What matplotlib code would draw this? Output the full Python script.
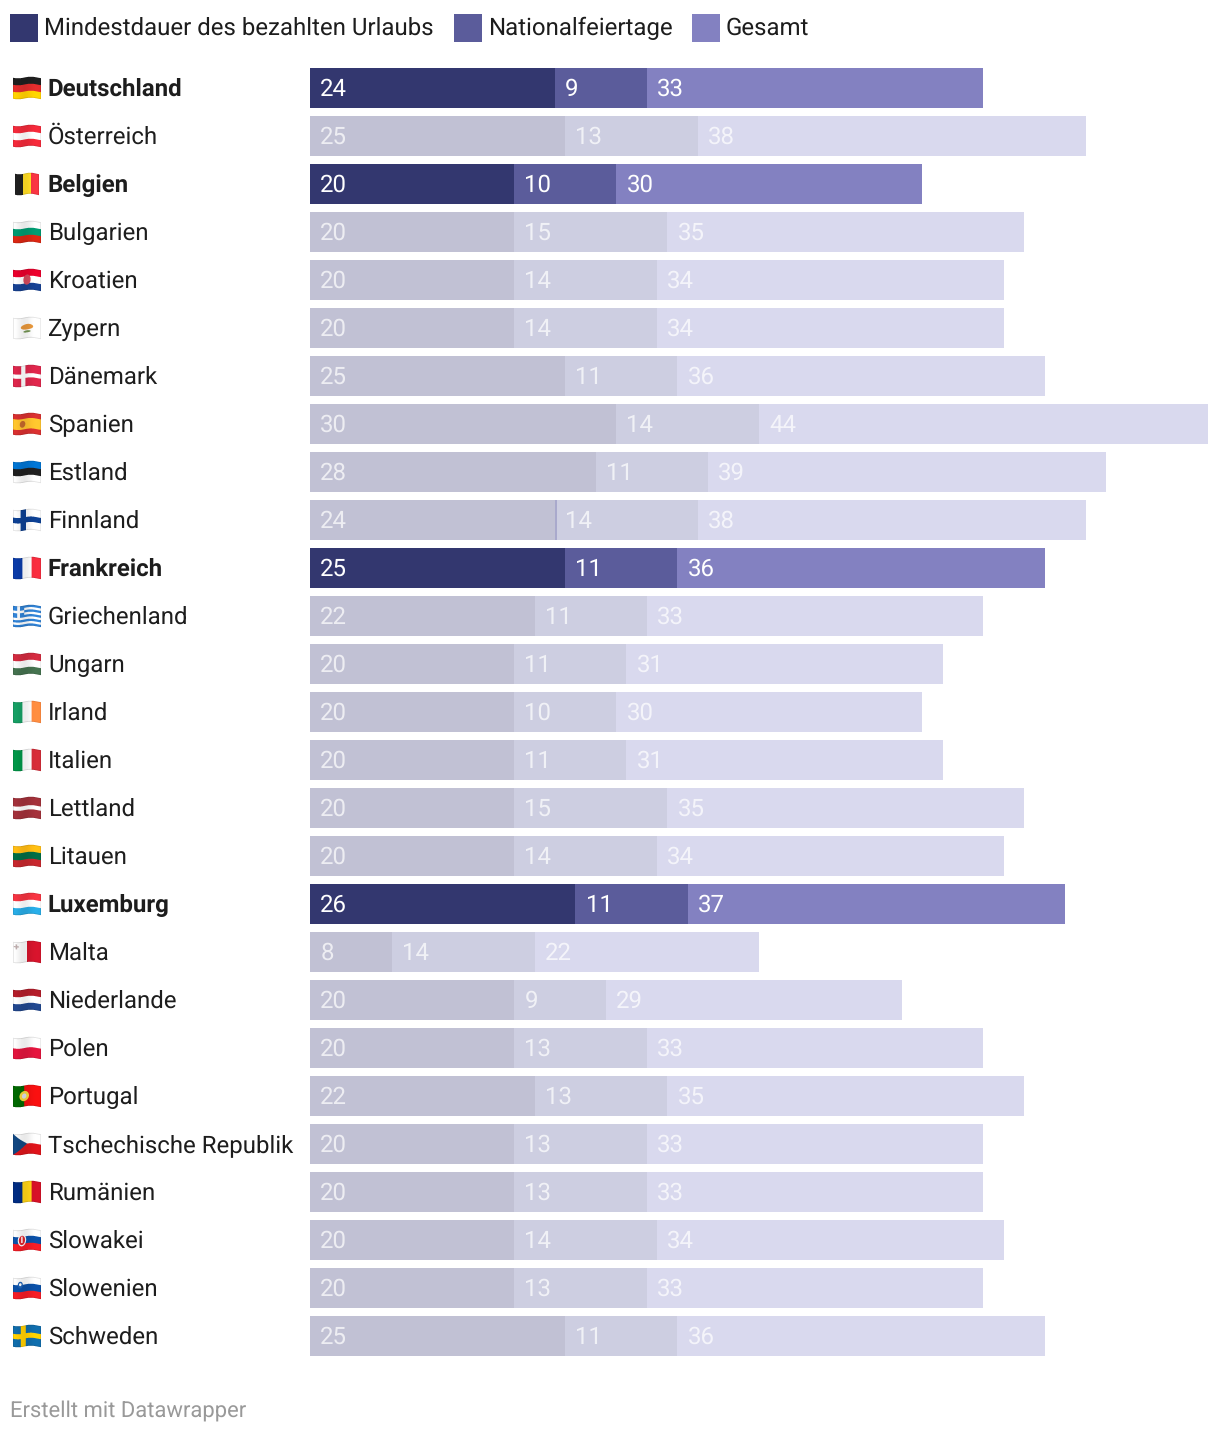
import numpy as np
import matplotlib
matplotlib.use("Agg")
import matplotlib.pyplot as plt
from matplotlib.patches import Rectangle
from matplotlib.transforms import ScaledTranslation

countries = ["Deutschland", "Österreich", "Belgien", "Bulgarien", "Kroatien", "Zypern", "Dänemark",
             "Spanien", "Estland", "Finnland", "Frankreich", "Griechenland", "Ungarn", "Irland",
             "Italien", "Lettland", "Litauen", "Luxemburg", "Malta", "Niederlande", "Polen",
             "Portugal", "Tschechische Republik", "Rumänien", "Slowakei", "Slowenien", "Schweden"]
urlaub = [24, 25, 20, 20, 20, 20, 25, 30, 28, 24, 25, 22, 20, 20, 20, 20, 20, 26, 8, 20, 20, 22, 20, 20, 20, 20, 25]
feiertage = [9, 13, 10, 15, 14, 14, 11, 14, 11, 14, 11, 11, 11, 10, 11, 15, 14, 11, 14, 9, 13, 13, 13, 13, 14, 13, 11]
gesamt = [33, 38, 30, 35, 34, 34, 36, 44, 39, 38, 36, 33, 31, 30, 31, 35, 34, 37, 22, 29, 33, 35, 33, 33, 34, 33, 36]
highlight = ["Deutschland", "Belgien", "Frankreich", "Luxemburg"]
series_names = ["Mindestdauer des bezahlten Urlaubs", "Nationalfeiertage", "Gesamt"]
footer = "Erstellt mit Datawrapper"

W, H = 1220, 1434
FONT = "Roboto"
FS = 17.28
plt.rcParams["font.family"] = [FONT, "DejaVu Sans"]
plt.rcParams["text.hinting"] = "no_hinting"
plt.rcParams["text.hinting_factor"] = 1

strong = ["#33376f", "#5b5c9b", "#8381c1"]
faded = ["#c1c1d4", "#cdcee1", "#d9d9ee"]

fig = plt.figure(figsize=(W / 100, H / 100), dpi=100, facecolor="white")

# pixel overlay for legend, flags, footer
ov = fig.add_axes([0, 0, 1, 1], zorder=3)
ov.set_xlim(0, W)
ov.set_ylim(H, 0)
ov.axis("off")
ov.patch.set_alpha(0)

# main bars
n = len(countries)
ax = fig.add_axes([310 / W, 1 - 1360 / H, 898 / W, 1296 / H], zorder=2)
ax.set_xlim(0, 88)
ax.set_ylim(n - 0.5, -0.5)
for s in ax.spines.values():
    s.set_visible(False)
ax.set_xticks([])
ax.set_yticks(range(n), labels=countries)
ax.tick_params(axis="y", length=0, pad=262 * 0.72, labelsize=FS, labelcolor="#1d1d1d")
fig.canvas.draw()
for lab, name in zip(ax.get_yticklabels(), countries):
    lab.set_ha("left")
    dx = -0.8 if name in highlight else 0
    lab.set_transform(lab.get_transform() + ScaledTranslation(dx / 100, 1 / 100, fig.dpi_scale_trans))
    if name in highlight:
        lab.set_fontweight("bold")

for i, name in enumerate(countries):
    on = name in highlight
    cols = strong if on else faded
    left = 0
    for v, c in zip((urlaub[i], feiertage[i], gesamt[i]), cols):
        ax.barh(i, v, left=left, height=40 / 48, color=c, linewidth=0)
        ax.annotate(str(v), xy=(left, i), xytext=(10.3 * 0.72, 0.72), textcoords="offset points",
                    ha="left", va="center_baseline", fontsize=FS,
                    color="white", alpha=1 if on else 0.72, annotation_clip=False)
        left += v
    if name == "Finnland":
        ax.barh(i, 0.2, left=urlaub[i], height=40 / 48, color="#a9a9cc", linewidth=0)

# legend
for x, tx, c, s in zip((10, 454, 692), (44, 488, 726), strong, series_names):
    ov.add_patch(Rectangle((x, 14), 28, 28, facecolor=c, linewidth=0))
    ov.text(tx, 25.6, s, fontsize=FS, color="#1d1d1d", ha="left", va="center_baseline")

ov.text(10, 1408, footer, fontsize=15.84, color="#999999", ha="left", va="center_baseline")


# flags
def hx(c):
    return np.array(matplotlib.colors.to_rgb(c))


def stripes(v, cols, weights=None):
    weights = weights or [1] * len(cols)
    edges = np.cumsum(weights) / np.sum(weights)
    idx = np.clip(np.searchsorted(edges, v), 0, len(cols) - 1)
    return np.array([hx(c) for c in cols])[idx]


def paint(code, u, v):
    H3 = lambda a, w=None: stripes(v, a, w)
    V3 = lambda a, w=None: stripes(u, a, w)
    def ell(img, cx, cy, rx, ry, c):
        img[((u - cx) / rx) ** 2 + ((v - cy) / ry) ** 2 < 1] = hx(c)
    def cross(bg, fg, cx=0.37, t=0.1):
        img = np.broadcast_to(hx(bg), u.shape + (3,)).copy()
        img[(abs(u - cx) < t * 0.75) | (abs(v - 0.5) < t)] = hx(fg)
        return img
    if code == "Deutschland": return H3(["#1f1f1f", "#dd2c2c", "#ffce00"])
    if code == "Österreich": return H3(["#ed2939", "#fafafa", "#ed2939"])
    if code == "Belgien": return V3(["#1f1f1f", "#fdda24", "#ef3340"])
    if code == "Bulgarien": return H3(["#f4f4f4", "#00966e", "#d62612"])
    if code == "Kroatien":
        img = H3(["#e4002b", "#fafafa", "#17408f"])
        ell(img, 0.5, 0.5, 0.13, 0.24, "#d0485a")
        return img
    if code == "Zypern":
        img = np.broadcast_to(hx("#f8f8f8"), u.shape + (3,)).copy()
        ell(img, 0.5, 0.46, 0.22, 0.13, "#e3943a")
        ell(img, 0.5, 0.68, 0.13, 0.05, "#6f8f4f")
        return img
    if code == "Dänemark": return cross("#d8264a", "#fafafa")
    if code == "Spanien":
        img = H3(["#d32f2f", "#fbc02d", "#d32f2f"], [1, 2, 1])
        ell(img, 0.34, 0.5, 0.1, 0.16, "#c0662b")
        return img
    if code == "Estland": return H3(["#0072ce", "#1f1f1f", "#f6f6f6"])
    if code == "Finnland": return cross("#f8f8f8", "#0d3f8f", t=0.13)
    if code == "Frankreich": return V3(["#0b3aa4", "#fafafa", "#ef2b3d"])
    if code == "Griechenland":
        img = stripes(v, ["#2f7fd0", "#f6f6f6"] * 4 + ["#2f7fd0"])
        box = (u < 0.4) & (v < 5 / 9)
        img[box] = hx("#2f7fd0")
        img[box & ((abs(u - 0.2) < 0.05) | (abs(v - 5 / 18) < 0.06))] = hx("#f6f6f6")
        return img
    if code == "Ungarn": return H3(["#cd2a3e", "#f6f6f6", "#436f4d"])
    if code == "Irland": return V3(["#169b62", "#fafafa", "#ff883e"])
    if code == "Italien": return V3(["#009246", "#fafafa", "#ce2b37"])
    if code == "Lettland": return H3(["#9e3039", "#f6f6f6", "#9e3039"], [2, 1, 2])
    if code == "Litauen": return H3(["#fdb913", "#006a44", "#c1272d"])
    if code == "Luxemburg": return H3(["#ef3340", "#fafafa", "#28a8e0"])
    if code == "Malta":
        img = V3(["#f6f6f6", "#cf142b"])
        img[(abs(u - 0.12) < 0.09) & (abs(v - 0.22) < 0.03)] = hx("#b8a8a8")
        img[(abs(u - 0.12) < 0.03) & (abs(v - 0.22) < 0.12)] = hx("#b8a8a8")
        return img
    if code == "Niederlande": return H3(["#ae1c28", "#fafafa", "#21468b"])
    if code == "Polen": return H3(["#f6f6f6", "#dc143c"])
    if code == "Portugal":
        img = V3(["#006600", "#f01010"], [2, 3])
        ell(img, 0.4, 0.5, 0.17, 0.24, "#f2d23c")
        ell(img, 0.4, 0.5, 0.08, 0.12, "#d8d8e8")
        return img
    if code == "Tschechische Republik":
        img = H3(["#f6f6f6", "#d7141a"])
        img[u < 0.5 * (1 - abs(2 * v - 1))] = hx("#11457e")
        return img
    if code == "Rumänien": return V3(["#002b7f", "#fcd116", "#ce1126"])
    if code == "Slowakei":
        img = H3(["#f6f6f6", "#0b4ea2", "#ee1c25"])
        ell(img, 0.32, 0.5, 0.15, 0.28, "#f6f6f6")
        ell(img, 0.32, 0.5, 0.11, 0.22, "#d8232a")
        img[(abs(u - 0.32) < 0.025) & (abs(v - 0.47) < 0.15)] = hx("#ffffff")
        return img
    if code == "Slowenien":
        img = H3(["#f6f6f6", "#0b4ea2", "#ee1c25"])
        ell(img, 0.26, 0.33, 0.09, 0.16, "#1d5fb0")
        ell(img, 0.26, 0.31, 0.045, 0.07, "#f6f6f6")
        return img
    if code == "Schweden": return cross("#106aa7", "#fecc00", t=0.12)
    raise KeyError(code)


SS = 5
PX_W, PX_H = 30, 26
for i, name in enumerate(countries):
    ys, xs = np.mgrid[0:PX_H * SS, 0:PX_W * SS]
    xpx = (xs + 0.5) / SS - 1
    ypx = (ys + 0.5) / SS - 2
    fw, fh = (28, 21) if name != "Belgien" else (24, 21)
    x0 = (28 - fw) / 2
    u = (xpx - x0) / fw
    wave = 1.0 * np.sin(2 * np.pi * (u * 1.1 + 0.05))
    v = (ypx - wave * 0.8 - 0.5) / fh
    inside = (u >= 0) & (u <= 1) & (v >= 0) & (v <= 1)
    rgb = paint(name, np.clip(u, 0, 1), np.clip(v, 0, 1)).astype(float)
    edge = inside & ((u < 0.025) | (u > 0.975) | (v < 0.04) | (v > 0.96))
    rgb[edge] = rgb[edge] * 0.88
    shade = 1 + 0.05 * np.sin(2 * np.pi * (u * 1.1 + 0.3))
    rgb = np.clip(rgb * shade[..., None], 0, 1)
    rgba = np.dstack([rgb, inside.astype(float)])
    pm = rgba.copy()
    pm[..., :3] *= pm[..., 3:4]
    pm = pm.reshape(PX_H, SS, PX_W, SS, 4).mean(axis=(1, 3))
    a = pm[..., 3:4]
    pm[..., :3] = np.where(a > 0, pm[..., :3] / np.maximum(a, 1e-6), 1)
    yc = 88 + 48 * i
    ov.imshow(pm, extent=(12, 12 + PX_W, yc - 13 + PX_H, yc - 13), interpolation="nearest",
              aspect="auto", zorder=2)
ov.set_xlim(0, W)
ov.set_ylim(H, 0)

fig.savefig("out.png", dpi=100, facecolor="white")
